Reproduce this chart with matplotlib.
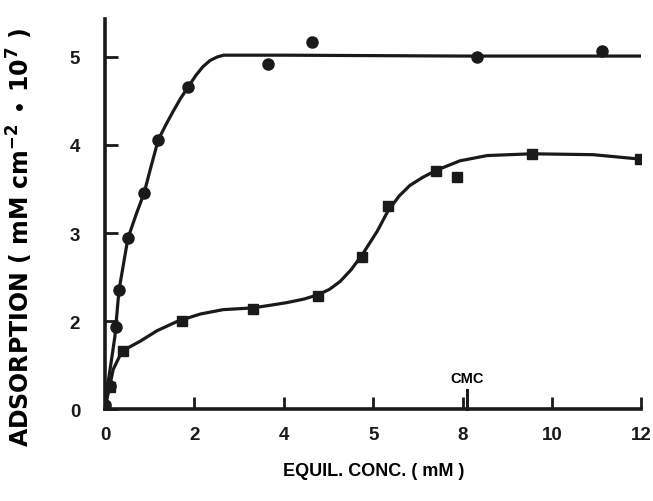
import numpy as np
import matplotlib
matplotlib.use("Agg")
from matplotlib import pyplot as plt

plt.rcParams['font.family'] = ['Liberation Sans', 'DejaVu Sans']

# measured points (y in axis position units; labels below)
circ_x = [0.0, 0.11, 0.25, 0.31, 0.51, 0.87, 1.19, 1.86, 3.65, 4.63, 8.32, 11.12]
circ_y = [0.05, 0.26, 0.93, 1.35, 1.94, 2.45, 3.06, 3.66, 3.92, 4.17, 4.00, 4.07]
sq_x = [0.0, 0.11, 0.40, 1.72, 3.31, 4.77, 5.75, 6.33, 7.40, 7.87, 9.55, 11.97]
sq_y = [0.02, 0.25, 0.66, 1.00, 1.14, 1.28, 1.73, 2.31, 2.70, 2.64, 2.90, 2.84]

# hand-drawn fitted curves
fit1_x = [0.0, 0.11, 0.22, 0.31, 0.51, 0.70, 0.87, 1.03, 1.19, 1.36, 1.52, 1.69, 1.86,
          2.03, 2.19, 2.35, 2.51, 2.65, 2.80, 3.2, 4.0, 8.0, 12.0]
fit1_y = [0.08, 0.45, 0.83, 1.35, 1.94, 2.22, 2.45, 2.76, 3.06, 3.23, 3.38, 3.53, 3.66,
          3.79, 3.89, 3.96, 4.00, 4.02, 4.02, 4.02, 4.02, 4.01, 4.01]
fit2_x = [0.0, 0.04, 0.18, 0.38, 0.78, 1.16, 1.63, 2.13, 2.64, 3.31, 3.70, 4.07, 4.45, 4.77,
          5.02, 5.26, 5.50, 5.75, 6.09, 6.33, 6.58, 6.82, 7.10, 7.40, 7.94, 8.55, 9.55,
          10.92, 11.97]
fit2_y = [0.02, 0.11, 0.45, 0.66, 0.77, 0.89, 1.00, 1.08, 1.13, 1.15, 1.18, 1.21, 1.25, 1.30,
          1.36, 1.45, 1.58, 1.75, 2.02, 2.25, 2.42, 2.54, 2.63, 2.71, 2.82, 2.88, 2.90,
          2.89, 2.84]

xticks = [0, 2, 4, 6, 8, 10, 12]
xticklabels = ['0', '2', '4', '5', '8', '10', '12']
yticks = [0, 1, 2, 3, 4]
yticklabels = ['0', '2', '3', '4', '5']
cmc = 8.1

fig = plt.figure(figsize=(6.53, 5.02), dpi=100)
ax = fig.add_axes([0.161, 0.183, 0.821, 0.777])

ax.plot(fit1_x, fit1_y, color='#1a1a1a', lw=2.3, solid_capstyle='round', solid_joinstyle='round')
ax.plot(fit2_x, fit2_y, color='#1a1a1a', lw=2.3, solid_capstyle='round', solid_joinstyle='round')
ax.plot(circ_x, circ_y, 'o', color='#1a1a1a', ms=8, ls='none')
ax.plot(sq_x, sq_y, 's', color='#1a1a1a', ms=7, ls='none')

# CMC marker
ax.plot([cmc, cmc], [0, 0.22], color='#1a1a1a', lw=2.2, clip_on=False)
ax.text(cmc, 0.27, 'CMC', ha='center', va='bottom', fontsize=10.5, fontweight='bold')

ax.set_xlim(0, 12)
ax.set_ylim(0, 4.43)
ax.set_xticks(xticks)
ax.set_xticklabels(xticklabels)
ax.set_yticks(yticks)
ax.set_yticklabels(yticklabels)
ax.tick_params(axis='both', direction='in', width=2, length=9, colors='#1a1a1a',
               labelsize=13.5)
ax.tick_params(axis='x', pad=12)
ax.tick_params(axis='y', pad=18)
for lab in ax.get_xticklabels() + ax.get_yticklabels():
    lab.set_fontweight('bold')

for s in ['top', 'right']:
    ax.spines[s].set_visible(False)
for s in ['left', 'bottom']:
    ax.spines[s].set_linewidth(2.6)
    ax.spines[s].set_color('#1a1a1a')

ax.set_xlabel('EQUIL. CONC. ( mM )', fontsize=13, fontweight='bold', labelpad=14)
ax.set_ylabel(r'ADSORPTION ( mM cm$^{\mathbf{-2}}$ $\bullet$ 10$^{\mathbf{7}}$ )',
              fontsize=17, fontweight='bold', family='DejaVu Sans')
ax.yaxis.set_label_coords(-0.13, 0.444)

fig.savefig('out.png', dpi=100)
